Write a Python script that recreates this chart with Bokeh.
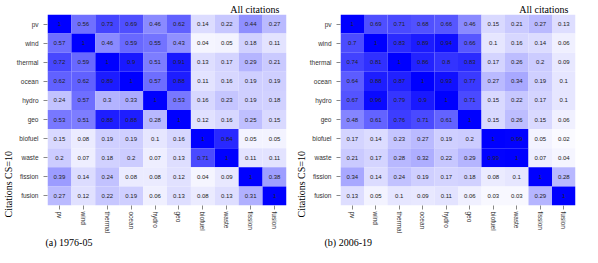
from bokeh.plotting import figure
from bokeh.layouts import row
from bokeh.models import ColumnDataSource, FactorRange, Title, LinearColorMapper
from bokeh.transform import transform
from bokeh.core.properties import value
from bokeh.embed import file_html
from bokeh.resources import INLINE

categories = ["pv", "wind", "thermal", "ocean", "hydro", "geo",
              "biofuel", "waste", "fission", "fusion"]

# rows = citing field, columns = cited field
vals_1976 = [
    [1, 0.56, 0.73, 0.69, 0.46, 0.62, 0.14, 0.22, 0.44, 0.27],
    [0.57, 1, 0.46, 0.59, 0.55, 0.43, 0.04, 0.05, 0.18, 0.11],
    [0.72, 0.59, 1, 0.9, 0.51, 0.91, 0.13, 0.17, 0.29, 0.21],
    [0.62, 0.62, 0.89, 1, 0.57, 0.88, 0.11, 0.16, 0.19, 0.19],
    [0.24, 0.57, 0.3, 0.33, 1, 0.53, 0.16, 0.23, 0.19, 0.18],
    [0.53, 0.51, 0.88, 0.88, 0.28, 1, 0.12, 0.16, 0.25, 0.15],
    [0.15, 0.08, 0.19, 0.19, 0.1, 0.16, 1, 0.84, 0.05, 0.05],
    [0.2, 0.07, 0.18, 0.2, 0.07, 0.13, 0.71, 1, 0.11, 0.11],
    [0.39, 0.14, 0.24, 0.08, 0.08, 0.12, 0.04, 0.09, 1, 0.38],
    [0.27, 0.12, 0.22, 0.19, 0.06, 0.13, 0.08, 0.13, 0.31, 1],
]

vals_2006 = [
    [1, 0.69, 0.71, 0.68, 0.66, 0.46, 0.15, 0.21, 0.27, 0.13],
    [0.7, 1, 0.83, 0.89, 0.94, 0.66, 0.1, 0.16, 0.14, 0.06],
    [0.74, 0.81, 1, 0.86, 0.8, 0.83, 0.17, 0.26, 0.2, 0.09],
    [0.64, 0.88, 0.87, 1, 0.93, 0.77, 0.27, 0.34, 0.19, 0.1],
    [0.67, 0.96, 0.79, 0.9, 1, 0.71, 0.15, 0.22, 0.17, 0.1],
    [0.48, 0.61, 0.76, 0.71, 0.61, 1, 0.15, 0.26, 0.15, 0.06],
    [0.17, 0.14, 0.23, 0.27, 0.19, 0.2, 1, 0.99, 0.05, 0.02],
    [0.21, 0.17, 0.28, 0.32, 0.22, 0.29, 0.99, 1, 0.07, 0.04],
    [0.34, 0.14, 0.24, 0.19, 0.17, 0.18, 0.08, 0.1, 1, 0.28],
    [0.13, 0.05, 0.1, 0.09, 0.11, 0.06, 0.03, 0.03, 0.29, 1],
]

captions = ["(a) 1976-05", "(b) 2006-19"]
panel_title = "All citations"
y_title = "Citations CS=10"

palette = ["#%02x%02xff" % (255 - i, 255 - i) for i in range(256)]
mapper = LinearColorMapper(palette=palette, low=0, high=1)

BORDER_TOP = 14
BORDER_BOTTOM = 42
FRAME_H = 191


def fmt(v):
    return f"{v:.2f}".rstrip("0").rstrip(".")


def serif_title(text, align, valign, offset):
    return Title(text=text, align=align, vertical_align=valign, offset=offset,
                 standoff=0, text_font="Liberation Serif", text_font_size="10px",
                 text_font_style="normal", text_color="black")


def panel(matrix, caption, frame_w, left, right, cap_offset, ylab_offset):
    xs, ys, vs, ls = [], [], [], []
    for i, r in enumerate(categories):
        for j, c in enumerate(categories):
            xs.append(c)
            ys.append(r)
            vs.append(matrix[i][j])
            ls.append(fmt(matrix[i][j]))
    src = ColumnDataSource(dict(col=xs, row=ys, val=vs, label=ls))
    p = figure(x_range=FactorRange(factors=categories),
               y_range=FactorRange(factors=categories[::-1]),
               frame_width=frame_w, frame_height=FRAME_H,
               min_border_left=left, min_border_right=right,
               min_border_top=BORDER_TOP, min_border_bottom=BORDER_BOTTOM,
               output_backend="svg", toolbar_location=None,
               background_fill_color="white", border_fill_color="white")
    p.rect(x="col", y="row", width=1, height=1, source=src,
           fill_color=transform("val", mapper), line_color=None)
    p.text(x="col", y="row", text="label", source=src,
           text_align="center", text_baseline="middle",
           text_font_size="6px", text_color="#222222",
           text_font=value("Liberation Sans"))
    p.grid.visible = False
    p.outline_line_color = None
    for ax in (p.xaxis[0], p.yaxis[0]):
        ax.axis_line_color = None
        ax.major_tick_line_color = "#888888"
        ax.major_tick_out = 4
        ax.major_tick_in = 0
        ax.minor_tick_line_color = None
        ax.major_label_text_font = "Liberation Sans"
        ax.major_label_text_font_size = "6.5px"
        ax.major_label_text_color = "#333333"
    p.xaxis.major_label_orientation = "vertical"
    p.xaxis.major_label_standoff = 2
    p.yaxis.major_label_standoff = 5

    p.add_layout(serif_title(panel_title, "right", "bottom", 7), "above")
    p.add_layout(serif_title(caption, "left", "top", cap_offset), "below")
    p.add_layout(serif_title(y_title, "left", "bottom", ylab_offset), "left")
    return p


p1 = panel(vals_1976, captions[0], 239, 45, 2, -2, -12)
p2 = panel(vals_2006, captions[1], 235, 52, 9, -16, -12)

layout = row(p1, p2)
open("out.html", "w").write(file_html(layout, INLINE))
